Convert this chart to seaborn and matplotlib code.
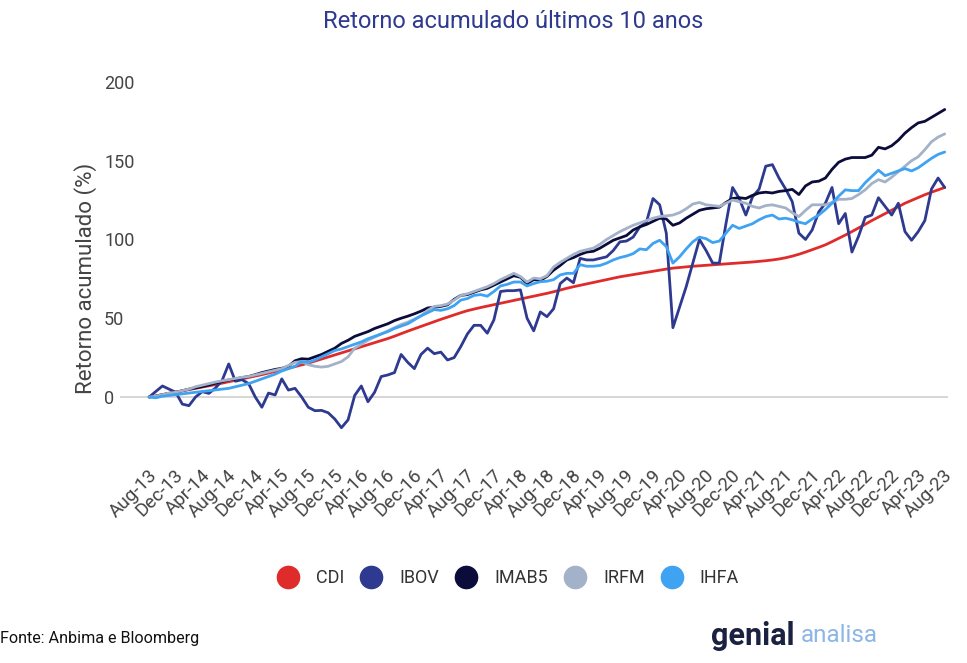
import matplotlib
matplotlib.use("Agg")
import matplotlib.pyplot as plt
import matplotlib.transforms as mtransforms
import seaborn as sns
import pandas as pd
from matplotlib.lines import Line2D

# ---------------- data ----------------
months = pd.date_range("2013-08-01", periods=121, freq="MS").strftime("%b-%y").tolist()

cdi = [0, 0.7, 1.5, 2.3, 3.1, 3.9, 4.7, 5.5, 6.3, 7.1, 7.9, 8.8, 9.7,
       10.6, 11.5, 12.4, 13.3, 14.2, 15.2, 16.2, 17.2, 18.2, 19.3, 20.4, 21.5,
       22.8, 24.1, 25.4, 26.7, 28.0, 29.3, 30.6, 31.9, 33.2, 34.5, 35.8, 37.1,
       38.6, 40.2, 41.8, 43.3, 44.8, 46.3, 47.8, 49.3, 50.7, 52.1, 53.5, 54.8,
       55.8, 56.8, 57.7, 58.6, 59.5, 60.4, 61.3, 62.2, 63.1, 64.0, 64.9,
       65.8, 66.8, 67.9, 69.0, 70.0,
       70.9, 71.8, 72.7, 73.6, 74.5, 75.4, 76.3,
       77.0, 77.7, 78.4, 79.1, 79.8, 80.5, 81.2, 81.8,
       82.2, 82.6, 83.0, 83.3, 83.6, 83.9, 84.2,
       84.5, 84.8, 85.1, 85.4, 85.7, 86.1, 86.5, 87.0,
       87.6, 88.4, 89.4, 90.6, 92.0,
       93.5, 95.0, 96.6,
       98.6, 100.7, 102.8, 105.0,
       107.3, 109.6, 112.0,
       114.2, 116.4, 118.6, 120.8, 123.0,
       124.8, 126.6, 128.4, 130.0, 131.5, 133.0]

ibov = [0, 3.5, 7.0, 5.0, 3.0, -4.5, -5.5, 0.0, 3.4, 2.3,
        5.7, 10.5, 21.0, 10.0, 11.0, 8.5, 0.0, -6.5, 2.5, 1.3,
        11.5, 4.4, 5.5, 0.0, -6.5, -8.7, -8.5, -10.0, -14.0, -19.5,
        -14.5, 1.0, 7.0, -3.0, 3.0, 13.0, 14.0, 15.5, 27.0, 22.0,
        18.0, 27.0, 31.0, 27.5, 28.5, 23.5, 25.0, 32.0, 40.0, 45.5,
        45.5, 40.5, 49.0, 67.0, 67.5, 67.5, 68.0, 50.0, 42.0, 54.0,
        51.0, 56.0, 72.0, 75.5, 72.5, 88.0, 87.0, 87.0, 88.0, 89.0,
        93.0, 98.5, 99.0, 101.5, 108.0, 111.0, 126.0, 122.0, 104.0, 44.0,
        57.0, 70.0, 85.0, 100.0, 93.0, 85.0, 85.0, 110.0, 133.0, 126.0,
        115.5, 127.0, 132.0, 146.5, 147.5, 139.0, 132.0, 124.0, 104.0, 100.0,
        106.0, 117.5, 123.0, 133.0, 110.0, 116.5, 92.0, 102.0, 114.0, 115.5,
        126.5, 121.0, 115.5, 123.0, 105.0, 99.5, 105.0, 112.0, 132.0, 139.0,
        133.0]

imab5 = [0, 0.5, 1.5, 2.3, 3.0, 4.0, 5.0, 5.8, 6.6, 7.6, 8.8, 9.8, 10.8,
         11.5, 12.3, 13.0, 14.2, 15.5, 16.5, 17.5, 18.2, 19.5,
         23.0, 24.3, 24.0, 25.5, 27.0, 29.0, 31.0, 34.0, 36.0, 38.5,
         40.0, 41.5, 43.5, 45.0, 46.5, 48.5, 50.0, 51.3, 52.8, 54.5,
         56.5, 57.0, 57.5, 58.5, 62.0, 64.5, 65.0, 66.5, 68.0, 69.0,
         71.0, 73.0, 75.0, 77.0, 76.0, 72.0, 74.5, 74.0, 76.5, 80.5,
         83.5, 87.0, 88.5, 90.5, 92.0, 92.5, 94.5, 97.0, 99.5, 101.0,
         102.5, 106.0, 108.0, 109.5, 111.5, 113.5, 113.0, 109.0, 110.5, 113.5,
         116.0, 118.5, 119.5, 120.0, 120.5, 123.5, 126.0, 126.5, 126.0, 128.0,
         129.5, 130.0, 129.5, 130.5, 131.0, 131.8, 128.5, 134.0, 136.5, 137.0,
         139.0, 144.5, 149.0, 151.0, 152.0, 152.0, 152.0, 153.5, 158.5, 157.5,
         159.5, 163.0, 167.5, 171.0, 174.0, 175.0, 177.5, 180.0, 182.5]

irfm = [0, 0.5, 1.5, 2.5, 3.0, 4.0, 5.0, 6.5, 7.5, 8.5, 9.5, 10.3, 11.0,
        11.8, 12.5, 13.0, 14.0, 15.0, 16.0, 17.0, 18.0, 20.0, 22.0,
        22.5, 20.5, 19.5, 19.0, 19.5, 21.0, 22.5, 25.5, 31.0, 33.5,
        36.0, 38.0, 40.0, 42.0, 44.0, 46.0, 47.5, 49.5, 51.5, 55.0,
        57.5, 58.0, 59.0, 61.5, 64.5, 65.5,
        67.0, 68.5, 70.0, 72.0, 74.5, 76.5, 78.5, 76.5, 73.0, 75.5,
        75.0, 77.0, 82.5, 85.5, 88.0, 90.5, 92.5, 93.5, 94.5, 97.0,
        100.0, 102.5, 105.0, 107.0, 109.0, 110.5, 112.0, 113.5, 114.5, 115.0,
        115.5, 117.0, 119.5, 122.5, 123.5, 122.0, 121.5, 121.0, 123.0, 125.0,
        124.0, 123.0, 121.0, 120.0, 121.5, 122.0, 121.0, 120.0, 117.0, 114.5,
        118.5, 122.0, 122.0, 122.0, 123.5, 125.5, 125.5, 126.0, 128.5, 131.5,
        135.5, 138.0, 136.5, 139.5, 143.0, 146.5, 150.0, 152.5, 157.0, 162.0,
        165.0, 167.0]

ihfa = [0, -0.5, 0.5, 1.0, 1.5, 2.0, 2.5, 3.0, 3.5, 4.0, 4.5, 5.0, 5.5,
        6.5, 7.5, 8.5, 10.0, 11.5, 13.0, 14.5, 16.5, 18.0, 19.5,
        22.5, 22.0, 23.5, 25.5, 27.5, 29.5, 30.5, 32.0, 33.5, 35.0,
        37.0, 38.5, 40.0, 41.5, 43.5, 45.0, 46.5, 49.0, 51.5, 53.5,
        55.5, 55.0, 56.0, 58.0, 61.5, 62.5, 64.5, 65.0, 64.0, 67.0,
        70.5, 71.5, 73.0, 73.0, 70.5, 72.0, 73.2, 73.5, 74.5, 77.5,
        78.5, 78.5, 84.0, 83.0, 83.0, 83.5, 85.0, 87.0, 88.5, 89.5,
        91.0, 94.0, 93.5, 97.5, 99.5, 95.5, 85.0, 89.0, 94.0, 98.5,
        101.5, 100.5, 98.0, 99.0, 104.0, 109.0, 107.0, 108.5, 110.0, 112.5,
        114.5, 115.5, 113.0, 113.5, 112.5, 111.0, 110.0, 113.0, 115.5, 119.0,
        123.0, 127.5, 131.5, 131.0, 131.0, 136.0, 140.0, 144.0, 140.5, 142.0,
        143.5, 145.0, 143.5, 145.5, 148.5, 151.5, 154.0, 155.5]

series_names = ["CDI", "IBOV", "IMAB5", "IRFM", "IHFA"]
colors = {"CDI": "#e02b2b", "IBOV": "#2e3a8f", "IMAB5": "#0b0c3a",
          "IRFM": "#a3b2c9", "IHFA": "#3fa3f2"}
yticks = [0, 50, 100, 150, 200]
tick_step = 4

# ---------------- plot ----------------
sns.set_theme(style="white")
plt.rcParams["font.family"] = ["Roboto", "DejaVu Sans"]

wide = pd.DataFrame({"idx": range(len(months)), "CDI": cdi, "IBOV": ibov,
                     "IMAB5": imab5, "IRFM": irfm, "IHFA": ihfa})
df = wide.melt(id_vars="idx", var_name="serie", value_name="valor")

fig = plt.figure(figsize=(9.67, 6.63), dpi=100)
ax = fig.add_axes([0.1241, 0.3418, 0.8563, 0.5465])

ax.axhline(0, color="#d0d0d0", linewidth=1.2, zorder=0)
sns.lineplot(data=df, x="idx", y="valor", hue="serie", hue_order=series_names,
             palette=colors, linewidth=2.0, ax=ax, legend=False)

ax.set_xlim(-4.4, 120.5)
ax.set_ylim(-25, 205)
for s in ax.spines.values():
    s.set_visible(False)
ax.grid(False)

ax.set_yticks(yticks)
ax.set_yticklabels([str(v) for v in yticks], ha="left", color="#444444", fontsize=13)
ax.tick_params(axis="y", length=0, pad=16 * 72 / 100)

pos = list(range(0, len(months), tick_step))
ax.set_xticks(pos)
ax.set_xticklabels([months[p] for p in pos], rotation=45, ha="right",
                   va="center", rotation_mode="anchor", color="#444444", fontsize=13.5)
ax.tick_params(axis="x", length=0, pad=26)
shift = mtransforms.ScaledTranslation(5 / 100, 0, fig.dpi_scale_trans)
for lab in ax.get_xticklabels():
    lab.set_transform(lab.get_transform() + shift)
ax.set_xlabel("")
ax.set_ylabel("")

fig.text(86 / 967, 1 - 278 / 663, "Retorno acumulado (%)", rotation=90,
         ha="center", va="center", fontsize=16, color="#444444")

fig.text(513 / 967, 1 - 21 / 663, "Retorno acumulado últimos 10 anos",
         ha="center", va="center", fontsize=17, color="#2e3a8f")

handles = [Line2D([], [], marker="o", linestyle="", markersize=16,
                  markerfacecolor=colors[n], markeredgecolor=colors[n]) for n in series_names]
fig.legend(handles, series_names, loc="center", bbox_to_anchor=(508 / 967, 1 - 578 / 663),
           ncol=5, frameon=False, fontsize=13, handlelength=1.2, handletextpad=0.95,
           columnspacing=0.9, labelcolor="#333333")

fig.text(0.0, 1 - 638 / 663, "Fonte: Anbima e Bloomberg", ha="left", va="center",
         fontsize=11.6, color="#111111")
fig.text(711 / 967, 1 - 636 / 663, "genial", ha="left", va="center", fontsize=22,
         fontweight="bold", color="#1b2140")
fig.text(801 / 967, 1 - 636 / 663, "analisa", ha="left", va="center", fontsize=17.5,
         color="#8cb6e6")

fig.savefig("out.png", dpi=100)
